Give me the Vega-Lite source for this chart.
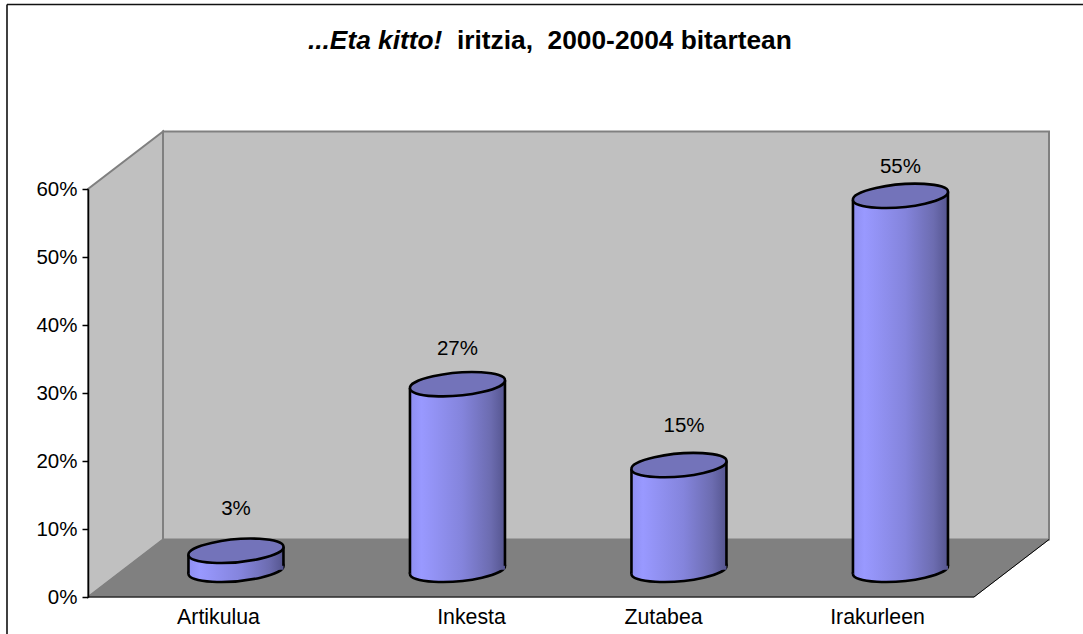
{
  "$schema": "https://vega.github.io/schema/vega-lite/v6.json",
  "width": 886,
  "height": 408,
  "autosize": {"type": "none"},
  "padding": {"left": 88, "top": 189, "right": 109, "bottom": 37},
  "background": "white",
  "config": {"view": {"stroke": null}, "text": {"font": "Liberation Sans"}, "axis": {"labelFont": "Liberation Sans", "grid": false}},
  "resolve": {"axis": {"x": "independent", "y": "independent"}},
  "datasets": {
    "bars": [
      {"category": "Artikulua", "order": 1, "labelOrder": 1.0, "value": 3, "label": "3%", "base": 4.0, "top": 6.8, "labelAt": 12.95},
      {"category": "Inkesta", "order": 2, "labelOrder": 2.0, "value": 27, "label": "27%", "base": 4.0, "top": 31.3, "labelAt": 36.4},
      {"category": "Zutabea", "order": 3, "labelOrder": 3.023, "value": 15, "label": "15%", "base": 4.0, "top": 19.4, "labelAt": 25.2},
      {"category": "Irakurleen", "order": 4, "labelOrder": 4.0, "value": 55, "label": "55%", "base": 4.0, "top": 59.0, "labelAt": 63.25}
    ]
  },
  "layer": [
    {
      "data": {"values": [{"a": 0.6706, "b": 4.6706, "c": 8.45, "d": 68.45}]},
      "mark": {"type": "rect", "fill": "#C0C0C0", "stroke": "#808080", "strokeWidth": 2},
      "encoding": {
        "x": {"field": "a", "type": "quantitative", "scale": {"domain": [0.332, 4.332], "nice": false, "zero": false, "padding": 0},
          "axis": {"title": null, "values": [0.919, 2.061, 2.928, 3.894], "labelExpr": "datum.value < 1.5 ? 'Artikulua' : datum.value < 2.5 ? 'Inkesta' : datum.value < 3.5 ? 'Zutabea' : 'Irakurleen'", "labelFontSize": 21.3, "labelColor": "#000", "labelAngle": 0, "labelFlush": false, "labelOverlap": false, "ticks": false, "domain": false, "labelPadding": 9}},
        "x2": {"field": "b"},
        "y": {"field": "c", "type": "quantitative", "scale": {"domain": [0, 60], "nice": false},
          "axis": {"title": null, "values": [0, 10, 20, 30, 40, 50, 60], "labelExpr": "datum.value + '%'", "labelFontSize": 20.5, "labelColor": "#000", "labelPadding": 5, "tickColor": "#000", "tickSize": 6, "tickWidth": 1.5, "domainColor": "#000", "domainWidth": 1.5, "zindex": 1}},
        "y2": {"field": "d"}
      }
    },
    {
      "data": {"values": [{"a": 0.332, "c": 0, "d": 60}, {"a": 0.6706, "c": 8.45, "d": 68.45}]},
      "mark": {"type": "area", "orient": "vertical", "fill": "#C0C0C0", "stroke": "#808080", "strokeWidth": 2},
      "encoding": {
        "x": {"field": "a", "type": "quantitative", "axis": null},
        "y": {"field": "c", "type": "quantitative", "axis": null},
        "y2": {"field": "d"}
      }
    },
    {
      "data": {"values": [{"c": 0, "a": 0.332, "b": 4.332}, {"c": 8.45, "a": 0.6706, "b": 4.6706}]},
      "mark": {"type": "area", "orient": "horizontal", "fill": "#808080", "stroke": "#808080", "strokeWidth": 1},
      "encoding": {
        "x": {"field": "a", "type": "quantitative", "axis": null},
        "x2": {"field": "b"},
        "y": {"field": "c", "type": "quantitative", "axis": null}
      }
    },
    {
      "data": {"values": [{"a": 4.332, "b": 4.6706, "c": 0, "d": 8.45}, {"a": 0.332, "b": 4.332, "c": 0, "d": 0}]},
      "mark": {"type": "rule", "color": "#000", "strokeWidth": 1},
      "encoding": {
        "x": {"field": "a", "type": "quantitative", "axis": null},
        "x2": {"field": "b"},
        "y": {"field": "c", "type": "quantitative", "axis": null},
        "y2": {"field": "d"}
      }
    },
    {
      "data": {"values": [{"a": -0.0337, "b": 4.824, "c": 87.13, "d": 87.13}, {"a": -0.0337, "b": -0.0337, "c": -5.5, "d": 87.13}]},
      "mark": {"type": "rule", "color": "#111", "strokeWidth": 1.6},
      "encoding": {
        "x": {"field": "a", "type": "quantitative", "axis": null},
        "x2": {"field": "b"},
        "y": {"field": "c", "type": "quantitative", "axis": null},
        "y2": {"field": "d"}
      }
    },
    {
      "data": {"values": [{"a": 1.325, "c": 81.75, "t": "...Eta kitto!"}]},
      "mark": {"type": "text", "align": "left", "baseline": "middle", "fontSize": 26.3, "fontWeight": "bold", "fontStyle": "italic", "color": "#000"},
      "encoding": {
        "x": {"field": "a", "type": "quantitative", "axis": null},
        "y": {"field": "c", "type": "quantitative", "axis": null},
        "text": {"field": "t"}
      }
    },
    {
      "data": {"values": [{"a": 1.998, "c": 81.75, "t": "iritzia,\u00a0 2000-2004 bitartean"}]},
      "mark": {"type": "text", "align": "left", "baseline": "middle", "fontSize": 26.3, "fontWeight": "bold", "color": "#000"},
      "encoding": {
        "x": {"field": "a", "type": "quantitative", "axis": null},
        "y": {"field": "c", "type": "quantitative", "axis": null},
        "text": {"field": "t"}
      }
    },
    {
      "data": {"name": "bars"},
      "mark": {"type": "point", "filled": true, "opacity": 1, "size": 9025, "shape": "M-1,0.085 A1.004,0.235 -5 1 1 1,-0.085 A1.004,0.235 -5 1 1 -1,0.085 Z", "stroke": "#000", "strokeWidth": 2.6, "fill": {"gradient": "linear", "x1": 0, "x2": 1, "y1": 0, "y2": 0, "stops": [{"offset": 0, "color": "#8f8ff0"}, {"offset": 0.12, "color": "#9999ff"}, {"offset": 0.55, "color": "#8484dc"}, {"offset": 0.85, "color": "#6c6cb0"}, {"offset": 1, "color": "#55558f"}]}},
      "encoding": {
        "x": {"field": "order", "type": "quantitative", "axis": null},
        "y": {"field": "base", "type": "quantitative", "axis": null}
      }
    },
    {
      "data": {"name": "bars"},
      "mark": {"type": "point", "filled": true, "opacity": 1, "size": 9025, "shape": "M-1,-0.15 L1,-0.15 L1,-0.085 L-1,0.085 Z", "fill": {"gradient": "linear", "x1": 0, "x2": 1, "y1": 0, "y2": 0, "stops": [{"offset": 0, "color": "#8f8ff0"}, {"offset": 0.12, "color": "#9999ff"}, {"offset": 0.55, "color": "#8484dc"}, {"offset": 0.85, "color": "#6c6cb0"}, {"offset": 1, "color": "#55558f"}]}},
      "encoding": {
        "x": {"field": "order", "type": "quantitative", "axis": null},
        "y": {"field": "base", "type": "quantitative", "axis": null}
      }
    },
    {
      "data": {"name": "bars"},
      "mark": {"type": "bar", "orient": "vertical", "width": 95, "fill": {"gradient": "linear", "x1": 0, "x2": 1, "y1": 0, "y2": 0, "stops": [{"offset": 0, "color": "#8f8ff0"}, {"offset": 0.12, "color": "#9999ff"}, {"offset": 0.55, "color": "#8484dc"}, {"offset": 0.85, "color": "#6c6cb0"}, {"offset": 1, "color": "#55558f"}]}},
      "encoding": {
        "x": {"field": "order", "type": "quantitative", "axis": null},
        "y": {"field": "base", "type": "quantitative", "axis": null},
        "y2": {"field": "top"}
      }
    },
    {
      "data": {"name": "bars"},
      "mark": {"type": "point", "filled": true, "opacity": 1, "size": 9025, "shape": "M-1,0.085 L1,-0.085 L1,0.15 L-1,0.15 Z", "fill": {"gradient": "linear", "x1": 0, "x2": 1, "y1": 0, "y2": 0, "stops": [{"offset": 0, "color": "#8f8ff0"}, {"offset": 0.12, "color": "#9999ff"}, {"offset": 0.55, "color": "#8484dc"}, {"offset": 0.85, "color": "#6c6cb0"}, {"offset": 1, "color": "#55558f"}]}},
      "encoding": {
        "x": {"field": "order", "type": "quantitative", "axis": null},
        "y": {"field": "top", "type": "quantitative", "axis": null}
      }
    },
    {
      "data": {"name": "bars"},
      "mark": {"type": "rule", "color": "#000", "strokeWidth": 2.6, "xOffset": -47.5, "yOffset": 4, "y2Offset": 4},
      "encoding": {
        "x": {"field": "order", "type": "quantitative", "axis": null},
        "y": {"field": "base", "type": "quantitative", "axis": null},
        "y2": {"field": "top"}
      }
    },
    {
      "data": {"name": "bars"},
      "mark": {"type": "rule", "color": "#000", "strokeWidth": 2.6, "xOffset": 47.5, "yOffset": -4, "y2Offset": -4},
      "encoding": {
        "x": {"field": "order", "type": "quantitative", "axis": null},
        "y": {"field": "base", "type": "quantitative", "axis": null},
        "y2": {"field": "top"}
      }
    },
    {
      "data": {"name": "bars"},
      "mark": {"type": "point", "filled": true, "opacity": 1, "size": 9025, "shape": "M-1,0.085 A1.004,0.235 -5 1 1 1,-0.085 A1.004,0.235 -5 1 1 -1,0.085 Z", "stroke": "#000", "strokeWidth": 2.6, "fill": "#7373BA"},
      "encoding": {
        "x": {"field": "order", "type": "quantitative", "axis": null},
        "y": {"field": "top", "type": "quantitative", "axis": null}
      }
    },
    {
      "data": {"name": "bars"},
      "mark": {"type": "text", "fontSize": 20.5, "color": "#000", "baseline": "middle"},
      "encoding": {
        "x": {"field": "labelOrder", "type": "quantitative", "axis": null},
        "y": {"field": "labelAt", "type": "quantitative", "axis": null},
        "text": {"field": "label"}
      }
    }
  ]
}
